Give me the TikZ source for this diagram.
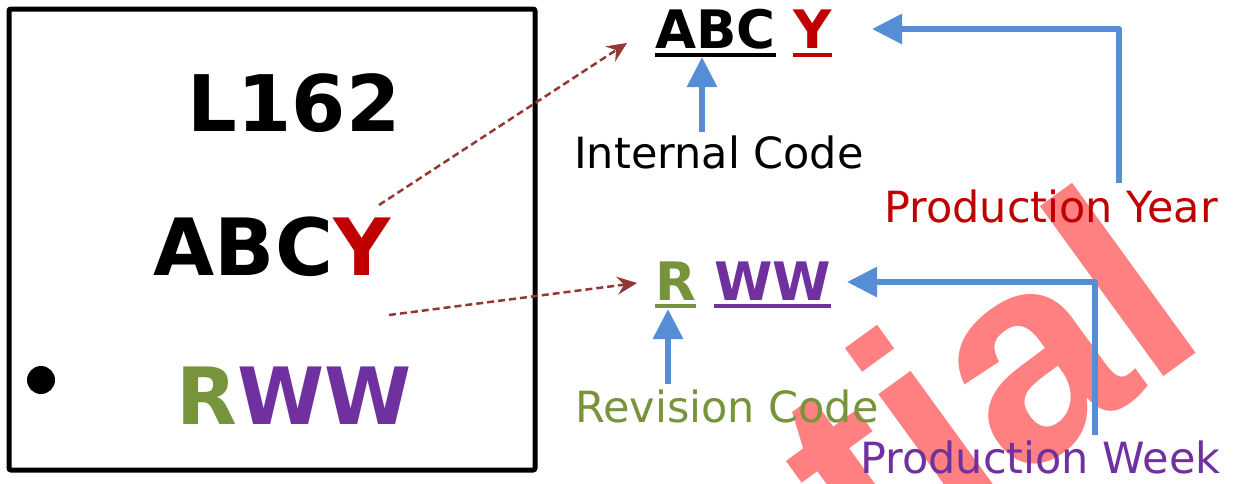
\documentclass[tikz,border=0pt]{standalone}
\usepackage{fontspec}
\setmainfont{DejaVu Sans}
\newfontfamily\wmfont{Liberation Sans}
\usetikzlibrary{arrows.meta}
\definecolor{cred}{HTML}{C00000}
\definecolor{cgreen}{HTML}{77933C}
\definecolor{cpurple}{HTML}{7030A0}
\definecolor{cblue}{HTML}{558ED5}
\definecolor{cdash}{HTML}{953735}
\definecolor{cwm}{HTML}{FF8080}
\begin{document}
\begin{tikzpicture}[x=1pt,y=-1pt,
  big/.style={font=\fontsize{79}{90}\selectfont\bfseries, inner sep=0pt, anchor=base},
  mid/.style={font=\fontsize{53}{60}\selectfont\bfseries, inner sep=0pt, anchor=base west},
  lab/.style={font=\fontsize{43}{50}\selectfont, inner sep=0pt, anchor=base west},
  barrow/.style={cblue, line width=6pt, line join=round, -{Triangle[length=30pt,width=29pt]}},
  darrow/.style={cdash, line width=2.5pt, dash pattern=on 7pt off 4pt, -{Stealth[length=20pt,width=18pt,inset=7pt]}},
  uline/.style={line width=4.7pt}
]
\useasboundingbox (0,0) rectangle (1234,483);
% watermark
\begin{scope}
\clip (0,0) rectangle (1234,483);
\node[rotate=36, anchor=base east, text=cwm, inner sep=0pt,
  font=\fontsize{290}{290}\selectfont\wmfont\bfseries] (wm) at (1213,341) {Confidential};
\end{scope}
% chip
\node[draw, line width=5pt, rounded corners=2pt, minimum width=526pt, minimum height=461pt, inner sep=0pt] (chip) at (272,239.5) {};
\node[big, font=\fontsize{78}{90}\selectfont\bfseries] (l162) at (294,131) {L162};
\node[big] (abcy) at (272,275) {ABC\textcolor{cred}{Y}};
\node[big] (rww) at (294.5,424) {\textcolor{cgreen}{R}\textcolor{cpurple}{WW}};
\fill (41,380) circle (14pt);
% decoded marking
\node[mid] (abc) at (655,48) {ABC};
\node[mid, text=cred] (yy) at (793,48) {Y};
\node[mid, text=cgreen] (rr) at (655,300) {R};
\node[mid, text=cpurple] (ww) at (714,300) {WW};
\draw[uline] ([yshift=-7pt]abc.base west) -- ([yshift=-7pt]abc.base east);
\draw[uline, cred] ([yshift=-7pt]yy.base west) -- ([yshift=-7pt]yy.base east);
\draw[uline, cgreen] ([yshift=-6pt]rr.base west) -- ([yshift=-6pt]rr.base east);
\draw[uline, cpurple] ([yshift=-6pt]ww.base west) -- ([yshift=-6pt]ww.base east);
% labels
\node[lab] (ic) at (574,168) {Internal Code};
\node[lab, text=cred] (py) at (884,222) {Production Year};
\node[lab, text=cgreen] (rc) at (575,422) {Revision Code};
\node[lab, text=cpurple] (pw) at (860,473) {Production Week};
% arrow ends
\coordinate (a1s) at (702,132); \coordinate (a1e) at (702,57);
\coordinate (a2s) at (1119,183); \coordinate (a2e) at (872,29);
\coordinate (a3s) at (668,384); \coordinate (a3e) at (668,309);
\coordinate (a4s) at (1095,435); \coordinate (a4e) at (847,282);
\coordinate (d1s) at (379,205); \coordinate (d1e) at (627,43);
\coordinate (d2s) at (389,315); \coordinate (d2e) at (637,283);
\draw[barrow] (a1s) -- (a1e);
\draw[barrow] (a2s) |- (a2e);
\draw[barrow] (a3s) -- (a3e);
\draw[barrow] (a4s) |- (a4e);
\draw[darrow] (d1s) -- (d1e);
\draw[darrow] (d2s) -- (d2e);
\end{tikzpicture}
\end{document}
